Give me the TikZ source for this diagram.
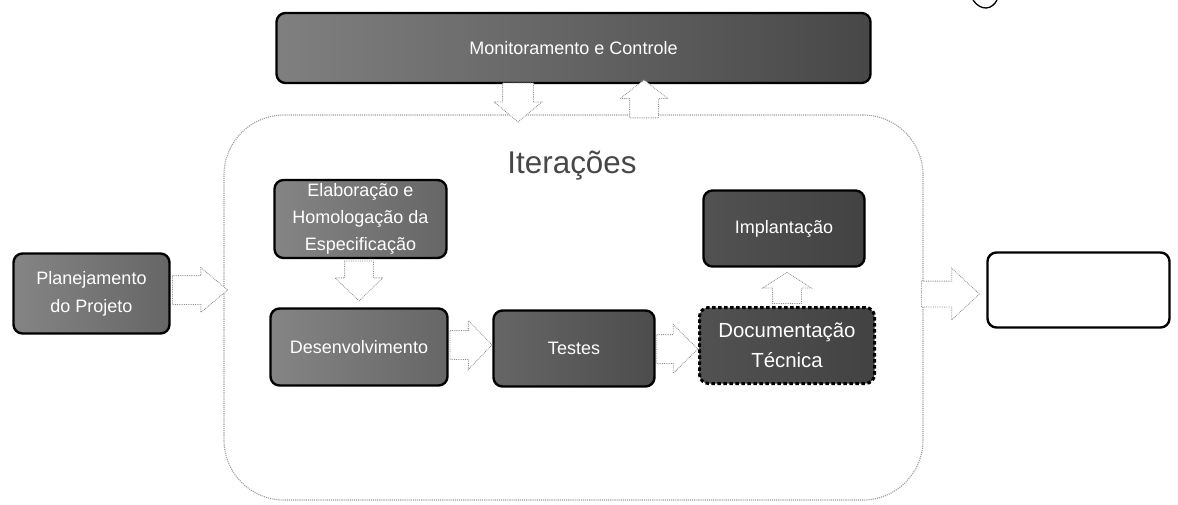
\documentclass[tikz,border=0pt]{standalone}
\usepackage{fontspec}
\setmainfont{Liberation Sans}
\usetikzlibrary{shapes.arrows}
\definecolor{arrowline}{gray}{0.55}
\definecolor{frameline}{gray}{0.62}
\tikzset{
  x=1pt,y=-1pt,
  procbox/.style={draw=black,line width=2.4pt,rounded corners=9pt,left color=black!48,right color=black!60,text=white,align=center,font=\fontsize{18}{28}\selectfont,inner sep=0pt,anchor=center},
  darkbox/.style={procbox,left color=black!68,right color=black!74},
  emptybox/.style={procbox,left color=white,right color=white},
  flow/.style={draw=arrowline,line width=0.8pt,densely dotted,fill=white,single arrow,inner xsep=0pt,inner ysep=14pt,outer sep=0pt,anchor=center},
  frame/.style={draw=frameline,line width=1.1pt,densely dotted,rounded corners=60pt,inner sep=0pt,anchor=center},
}
\begin{document}
\begin{tikzpicture}
\useasboundingbox (0,0) rectangle (1178,504);
\path[fill=white] (0,0) rectangle (1178,504);
% small arc cut off by the top edge
\draw[black,line width=1.3pt] (973,0) .. controls (977,6) and (982,8) .. (986,8) .. controls (991,8) and (995,4) .. (997,0);
\node[frame,minimum width=699pt,minimum height=385pt] (iter) at (573.5,307.5) {};
\node[procbox,left color=black!50,right color=black!72,minimum width=594pt,minimum height=70pt] (mon) at (573.5,48) {Monitoramento e Controle};
\node[procbox,minimum width=156pt,minimum height=80pt] (plan) at (91.5,293.5) {Planejamento\\do Projeto};
\node[procbox,minimum width=172pt,minimum height=78pt,font=\fontsize{18}{27}\selectfont] (elab) at (360.5,219) {Elaboração e\\Homologação da\\Especificação};
\node[procbox,minimum width=177pt,minimum height=77pt] (dev) at (359,347) {Desenvolvimento};
\node[procbox,left color=black!60,right color=black!70,minimum width=161pt,minimum height=76pt] (test) at (574,348.5) {Testes};
\node[darkbox,minimum width=161pt,minimum height=76pt] (impl) at (784,228.5) {Implantação};
\node[darkbox,dash pattern=on 3.5pt off 2.5pt,line width=3pt,minimum width=175pt,minimum height=76pt,font=\fontsize{20.4}{30}\selectfont] (doc) at (787,345.5) {Documentação\\Técnica};
\node[emptybox,minimum width=182pt,minimum height=75pt] (out) at (1078.5,290) {};
\node[font=\fontsize{31.4}{36}\selectfont,text=black!72] (ttl) at (572,166) {Iterações};
\node[flow,minimum height=55pt,single arrow head extend=8pt,single arrow tip angle=80] (ar1) at (191.5,290) {};
\node[flow,minimum height=40pt,single arrow head extend=9.5pt,single arrow tip angle=92,rotate=-90] (ar2) at (359,274) {};
\node[flow,minimum height=42pt,single arrow head extend=10pt,single arrow tip angle=92] (ar3) at (464,345) {};
\node[flow,minimum height=41pt,single arrow head extend=10pt,single arrow tip angle=90] (ar4) at (670,349) {};
\node[flow,minimum height=31pt,single arrow head extend=10pt,single arrow tip angle=115,rotate=90] (ar5) at (787,292.5) {};
\node[flow,inner ysep=12.5pt,minimum height=58pt,single arrow head extend=13pt,single arrow tip angle=86] (ar6) at (943.5,294) {};
\node[flow,inner ysep=15pt,minimum height=39pt,single arrow head extend=8.5pt,single arrow tip angle=100,rotate=-90] (ar7) at (518,96) {};
\node[flow,minimum height=38pt,single arrow head extend=9.5pt,single arrow tip angle=104,rotate=90] (ar8) at (644,104.5) {};
\end{tikzpicture}
\end{document}
